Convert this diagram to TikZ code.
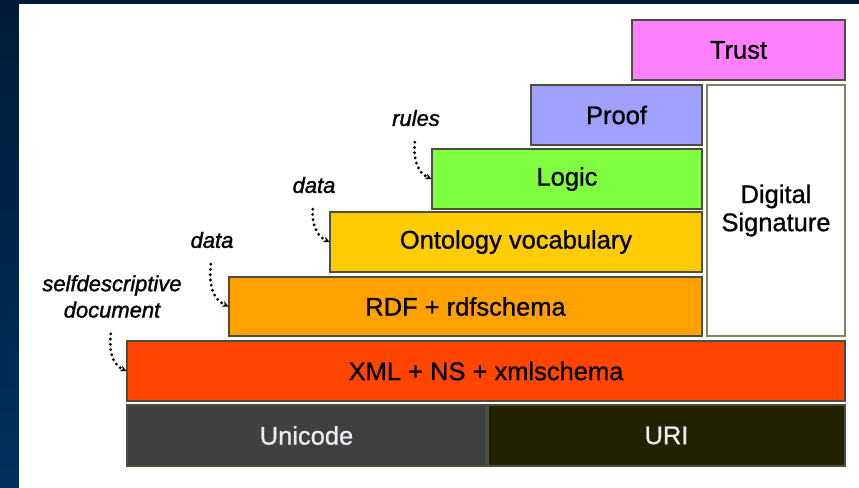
\documentclass[tikz,border=0pt]{standalone}
\usepackage{fontspec}
\setmainfont{Liberation Sans}
% slightly heavier faces for the labels
\newfontfamily\boxfont[BoldFont=Liberation Sans, BoldFeatures={FakeBold=0.9}]{Liberation Sans}
\newfontfamily\notefont[ItalicFont=Liberation Sans Italic,
    BoldItalicFont=Liberation Sans Italic, BoldItalicFeatures={FakeBold=1.4}]{Liberation Sans}
\usetikzlibrary{arrows.meta,positioning}

\definecolor{navytop}{HTML}{001B38}
\definecolor{navybot}{HTML}{00315C}
\definecolor{trustc}{HTML}{FF80FF}
\definecolor{proofc}{HTML}{A0A0FF}
\definecolor{logicc}{HTML}{80FF40}
\definecolor{ontoc}{HTML}{FFCC00}
\definecolor{rdfc}{HTML}{FFA200}
\definecolor{xmlc}{HTML}{FF4500}
\definecolor{unic}{HTML}{404040}
\definecolor{uric}{HTML}{222200}
\definecolor{edgec}{HTML}{4E4E40}

\begin{document}
\begin{tikzpicture}[
    layer/.style={rectangle, draw=edgec, line width=0.6pt, minimum height=1.2cm,
        font=\boxfont\bfseries\fontsize{14.5}{17}\selectfont, text=black},
    dark/.style={layer, text={rgb,255:red,235;green,235;blue,242}},
    note/.style={font=\notefont\bfseries\itshape\fontsize{12.5}{15}\selectfont, align=center, inner sep=1pt},
    link/.style={line width=1.8pt, dash pattern=on 0pt off 3pt, line cap=round,
        -{Stealth[length=3.5pt,width=3.5pt]}, shorten <=8pt}
]
% frame
\fill[top color=navytop, bottom color=navybot] (0,0) rectangle (17.18,-9.76);
\fill[white] (0.38,-0.08) rectangle (17.18,-9.76);
\useasboundingbox (0,0) rectangle (17.18,-9.76);

% bottom layers
\node[dark, fill=unic, minimum width=7.18cm, minimum height=1.22cm] (uni) at (6.13,-8.71) {Unicode};
\node[dark, fill=uric, minimum width=7.14cm, minimum height=1.22cm] (uri) at (13.33,-8.71) {URI};
\node[layer, fill=xmlc, minimum width=14.36cm] (xml) at (9.72,-7.42) {XML + NS + xmlschema};

% stacked layers
\node[layer, fill=rdfc, minimum width=9.46cm, minimum height=1.18cm] (rdf) at (9.31,-6.13) {RDF + rdfschema};
\node[layer, fill=ontoc, minimum width=7.44cm] (onto) at (10.32,-4.84) {Ontology vocabulary};
\node[layer, fill=logicc, minimum width=5.40cm] (logic) at (11.34,-3.58) {Logic};
\node[layer, fill=proofc, minimum width=3.42cm] (proof) at (12.33,-2.30) {Proof};
\node[layer, fill=trustc, minimum width=4.26cm] (trust) at (14.77,-1.00) {Trust};
\node[layer, fill=white, draw={rgb,255:red,130;green,130;blue,96}, align=center,
    minimum width=2.76cm, minimum height=5.02cm] (sig) at (15.52,-4.21) {Digital\\[-1pt]Signature};

% side notes
\node[note] (rules) at (8.32,-2.36) {rules};
\node[note] (data2) at (6.28,-3.70) {data};
\node[note] (data1) at (4.24,-4.80) {data};
\node[note] (self) at (2.24,-5.93) {selfdescriptive\\document};

\draw[link] (rules.south) to[out=-95, in=155] (logic.west);
\draw[link] (data2.south) to[out=-95, in=155] (onto.west);
\draw[link] (data1.south) to[out=-95, in=155] (rdf.west);
\draw[link] (self.south) to[out=-95, in=155] (xml.west);
\end{tikzpicture}
\end{document}
